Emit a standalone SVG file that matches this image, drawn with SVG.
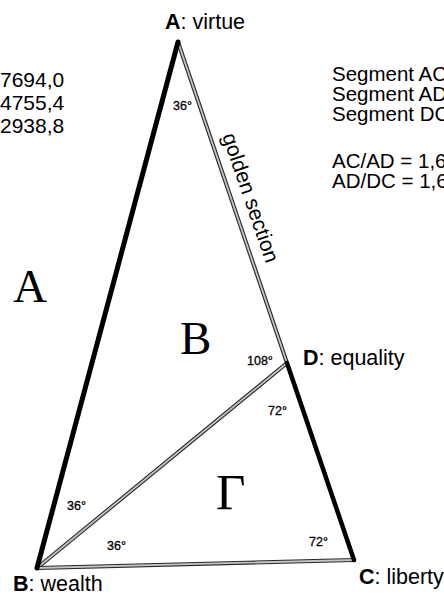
<svg xmlns="http://www.w3.org/2000/svg" width="444" height="596" viewBox="0 0 444 596">
<style>
.lbl{font-family:"Liberation Sans",Arial,sans-serif;font-size:21px;fill:#000}
.seg{font-family:"Liberation Sans",Arial,sans-serif;font-size:20.5px;fill:#000}
.vtx{font-family:"Liberation Sans",Arial,sans-serif;font-size:21.5px;fill:#000}
.ang{font-family:"Liberation Sans",Arial,sans-serif;font-size:12.5px;fill:#000;stroke:#000;stroke-width:0.3}
.reg{font-family:"Liberation Serif","Times New Roman",serif;font-size:47px;fill:#000}
.bold{font-weight:bold}
.thick{stroke:#000;fill:none;stroke-linecap:round}
.dbl-o{stroke:#2a2a2a;stroke-width:4;fill:none;stroke-linecap:round}
.dbl-i{stroke:#c4c4c4;stroke-width:1.8;fill:none;stroke-linecap:round}
</style>
<rect width="444" height="596" fill="#fff"/>
<g id="connectors">
  <line class="dbl-o" x1="178" y1="42" x2="287" y2="363"/>
  <line class="dbl-i" x1="178" y1="42" x2="287" y2="363"/>
  <line class="dbl-o" x1="37" y1="568" x2="287" y2="363"/>
  <line class="dbl-i" x1="37" y1="568" x2="287" y2="363"/>
  <line class="dbl-o" x1="37" y1="568" x2="354" y2="560"/>
  <line class="dbl-i" x1="37" y1="568" x2="354" y2="560"/>
  <line class="thick" stroke-width="5" x1="178" y1="42" x2="37" y2="568"/>
  <line class="thick" stroke-width="4.5" x1="287" y1="363" x2="354" y2="560"/>
</g>
<g id="node-A">
  <text class="vtx" x="165" y="29"><tspan class="bold">A</tspan>: virtue</text>
  <text class="ang" x="173" y="110">36°</text>
</g>
<g id="node-D">
  <text class="vtx" x="303" y="365"><tspan class="bold">D</tspan>: equality</text>
  <text class="ang" x="247" y="365">108°</text>
  <text class="ang" x="268" y="415">72°</text>
</g>
<g id="node-B">
  <text class="vtx" x="13" y="591"><tspan class="bold">B</tspan>: wealth</text>
  <text class="ang" x="67" y="510">36°</text>
  <text class="ang" x="107" y="550">36°</text>
</g>
<g id="node-C">
  <text class="vtx" x="359" y="584"><tspan class="bold">C</tspan>: liberty</text>
  <text class="ang" x="309" y="546">72°</text>
</g>
<g id="edge-label">
  <text class="lbl" x="0" y="0" text-anchor="middle" transform="translate(244,200) rotate(71)">golden section</text>
</g>
<g id="regions">
  <text class="reg" x="13" y="302">A</text>
  <text class="reg" x="180" y="354">B</text>
  <text class="reg" x="216" y="509" style="font-size:51px">Γ</text>
</g>
<g id="values-left">
  <text class="lbl" x="0" y="87">7694,0</text>
  <text class="lbl" x="0" y="110">4755,4</text>
  <text class="lbl" x="0" y="133">2938,8</text>
</g>
<g id="values-right">
  <text class="seg" x="332" y="81">Segment AC</text>
  <text class="seg" x="332" y="101">Segment AD</text>
  <text class="seg" x="332" y="121">Segment DC</text>
  <text class="seg" x="332" y="168">AC/AD = 1,6</text>
  <text class="seg" x="332" y="188">AD/DC = 1,6</text>
</g>
</svg>
